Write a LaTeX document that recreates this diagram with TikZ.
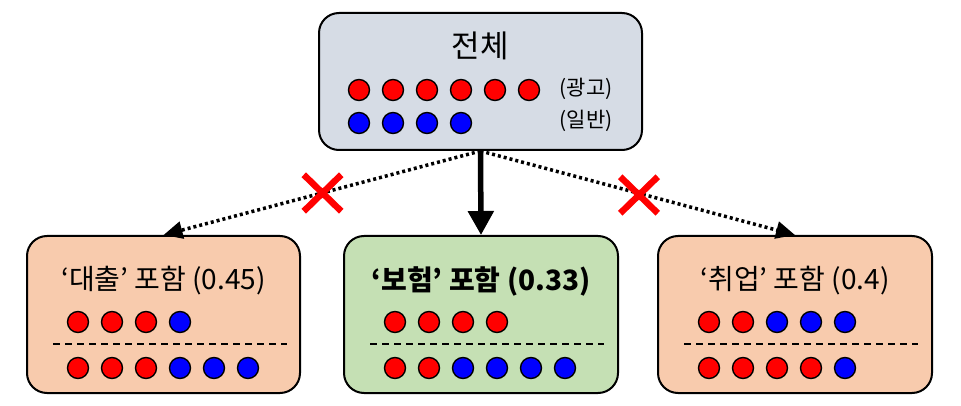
\documentclass[tikz,border=0pt]{standalone}
\usepackage{fontspec}
\setmainfont{Noto Sans CJK KR}
\usetikzlibrary{arrows.meta,shapes.misc}
\definecolor{topfill}{HTML}{D6DCE5}
\definecolor{peach}{HTML}{F8CBAD}
\definecolor{greenfill}{HTML}{C5E0B4}
\tikzset{
  box/.style={draw=black, line width=2pt, rounded corners=20pt, inner sep=0pt},
  dotr/.style={circle, draw=black, line width=1.4pt, fill=red, minimum size=21pt, inner sep=0pt},
  dotb/.style={circle, draw=black, line width=1.4pt, fill=blue, minimum size=21pt, inner sep=0pt},
  title/.style={font=\fontsize{28}{32}\selectfont, inner sep=0pt},
  small/.style={font=\fontsize{21}{24}\selectfont, inner sep=0pt},
  sep/.style={line width=1.7pt, dash pattern=on 7pt off 5pt},
  dotline/.style={line width=3.5pt, dash pattern=on 3pt off 3pt, -{Triangle[length=19pt,width=17pt]}},
  mainarrow/.style={line width=5.5pt, -{Triangle[length=24pt,width=25pt]}},
  xmark/.style={cross out, draw=red, line width=6.5pt, minimum width=31pt, minimum height=30pt, inner sep=0pt}
}
\begin{document}
\begin{tikzpicture}[x=1pt,y=-1pt]
\useasboundingbox (0,0) rectangle (961,406);
% boxes
\node[box, fill=topfill, minimum width=323pt, minimum height=137pt] (top) at (480.5,81.5) {};
\node[box, fill=peach, minimum width=273pt, minimum height=157pt] (left) at (163.5,314.5) {};
\node[box, fill=greenfill, minimum width=274pt, minimum height=157pt] (mid) at (481,314.5) {};
\node[box, fill=peach, minimum width=274pt, minimum height=157pt] (right) at (795,314.5) {};
% top content
\node[font=\fontsize{31}{34}\selectfont, inner sep=0pt] (ttop) at (480.5,46) {전체};
\foreach \i in {0,...,5} \node[dotr] (tr\i) at (359+34*\i,90) {};
\foreach \i in {0,...,3} \node[dotb] (tb\i) at (359+34*\i,123) {};
\node[small] (ad) at (586,89) {(광고)};
\node[small] (gen) at (586,121) {(일반)};
% left content
\node[title] (tl) at (163.5,281) {‘대출’ 포함 (0.45)};
\foreach \i in {0,...,2} \node[dotr] (l1r\i) at (78+34*\i,322) {};
\node[dotb] (l1b) at (180,322) {};
\coordinate (ls1) at (53,344); \coordinate (ls2) at (287,344);
\draw[sep] (ls1) -- (ls2);
\foreach \i in {0,...,2} \node[dotr] (l2r\i) at (78+34*\i,368) {};
\foreach \i in {3,...,5} \node[dotb] (l2b\i) at (78+34*\i,368) {};
% middle content
\node[title, font=\fontsize{28}{32}\selectfont\bfseries] (tm) at (481,281) {‘보험’ 포함 (0.33)};
\foreach \i in {0,...,3} \node[dotr] (m1r\i) at (395+34*\i,322) {};
\coordinate (ms1) at (370,344); \coordinate (ms2) at (604,344);
\draw[sep] (ms1) -- (ms2);
\foreach \i in {0,1} \node[dotr] (m2r\i) at (395+34*\i,368) {};
\foreach \i in {2,...,5} \node[dotb] (m2b\i) at (395+34*\i,368) {};
% right content
\node[title] (tr) at (795,281) {‘취업’ 포함 (0.4)};
\foreach \i in {0,1} \node[dotr] (r1r\i) at (709+34*\i,322) {};
\foreach \i in {2,...,4} \node[dotb] (r1b\i) at (709+34*\i,322) {};
\coordinate (rs1) at (684,344); \coordinate (rs2) at (918,344);
\draw[sep] (rs1) -- (rs2);
\foreach \i in {0,...,3} \node[dotr] (r2r\i) at (709+34*\i,368) {};
\node[dotb] (r2b) at (845,368) {};
% connectors
\draw[dotline] (top.south) -- (left.north);
\draw[dotline] (top.south) -- (right.north);
\draw[mainarrow] (top.south) -- (mid.north);
% crosses
\node[xmark] (xl) at (322.5,193) {};
\node[xmark] (xr) at (639,195) {};
\end{tikzpicture}
\end{document}
